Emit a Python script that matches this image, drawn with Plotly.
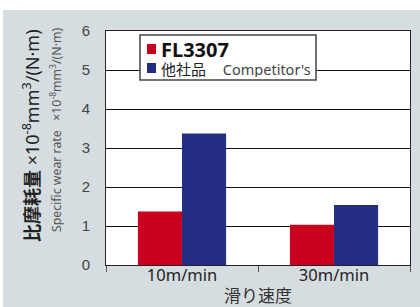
import plotly.graph_objects as go

categories = ["10m/min", "30m/min"]
series_names = ["FL3307", "他社品"]
series_sub = ["", "Competitor's"]
fl3307 = [1.37, 1.03]
competitor = [3.37, 1.54]
y_ticks = [0, 1, 2, 3, 4, 5, 6]
colors = ["#c8001e", "#232d82"]

W, H = 420, 307
L, R, T, B = 106, 10, 31, 42
PW, PH = W - L - R, H - T - B

def px(x):
    return (x - L) / PW

def py(y):
    return (H - B - y) / PH

fig = go.Figure()
for name, vals, c in zip(series_names, [fl3307, competitor], colors):
    fig.add_trace(go.Bar(x=categories, y=vals, name=name, marker=dict(color=c, line=dict(width=0)),
                         showlegend=False))

JP = "Noto Sans CJK JP"
LAT = "Noto Sans"

fig.update_layout(
    width=W, height=H,
    margin=dict(l=L, r=R, t=T, b=B, pad=0),
    paper_bgcolor="#d6dde0",
    plot_bgcolor="#ffffff",
    barmode="group", bargap=0.42, bargroupgap=0,
    xaxis=dict(
        showline=True, linecolor="#222", linewidth=1, mirror=True,
        ticks="outside", ticklen=6, tickcolor="#555", tickson="boundaries",
        tickfont=dict(family=LAT, size=16.5, color="#222"),
        ticklabelstandoff=-5,
        showgrid=False,
    ),
    yaxis=dict(
        range=[0, 6], tickvals=y_ticks, ticktext=[str(v) for v in y_ticks],
        showline=True, linecolor="#222", linewidth=1, mirror=True,
        showgrid=True, gridcolor="#111", gridwidth=1,
        ticks="", ticklabelstandoff=12,
        tickfont=dict(family="Liberation Sans Narrow, Arial Narrow, sans-serif", size=15, color="#444"),
        zeroline=False,
    ),
    font=dict(family=JP),
)

# white strips outside the grey panel
fig.add_shape(type="rect", xref="paper", yref="paper", x0=px(-5), x1=px(W + 5), y0=py(10), y1=py(-5),
              fillcolor="#ffffff", line=dict(width=0), layer="above")
fig.add_shape(type="rect", xref="paper", yref="paper", x0=px(-5), x1=px(3), y0=py(H + 5), y1=py(-5),
              fillcolor="#ffffff", line=dict(width=0), layer="above")

# y-axis titles
fig.add_annotation(xref="paper", yref="paper", x=px(31), y=py(136), showarrow=False, textangle=-90,
                   text="<b>比摩耗量</b> ×10<sup>-8</sup>mm<sup>3</sup>/(N·m)",
                   font=dict(family=LAT + ", " + JP, size=18, color="#222"),
                   xanchor="center", yanchor="middle")
fig.add_annotation(xref="paper", yref="paper", x=px(56), y=py(130), showarrow=False, textangle=-90,
                   text="Specific wear rate&nbsp;&nbsp;&nbsp;×10<sup>-8</sup>mm<sup>3</sup>/(N·m)",
                   font=dict(family=LAT + ", " + JP, size=12.3, color="#555"),
                   xanchor="center", yanchor="middle")
# x-axis title
fig.add_annotation(xref="paper", yref="paper", x=px(258), y=py(294), showarrow=False,
                   text="滑り速度", font=dict(family=JP, size=17, color="#333"),
                   xanchor="center", yanchor="middle")

# legend box
fig.add_shape(type="rect", xref="paper", yref="paper", x0=px(140), x1=px(316), y0=py(80), y1=py(35),
              fillcolor="#ffffff", line=dict(color="#444", width=1.5), layer="above")
rows = [49, 68]
for i, (name, sub, c) in enumerate(zip(series_names, series_sub, colors)):
    yc = rows[i]
    fig.add_shape(type="rect", xref="paper", yref="paper", x0=px(147), x1=px(156), y0=py(yc + 5), y1=py(yc - 5),
                  fillcolor=c, line=dict(width=0), layer="above")
    if i == 0:
        txt = "<b>%s</b>" % name
        f = dict(family="Noto Sans, " + JP, size=20, color="#111")
    else:
        txt = "%s&nbsp;&nbsp;&nbsp;&nbsp;&nbsp;<span style='font-size:14.5px;color:#444;font-family:Noto Sans'>%s</span>" % (name, sub)
        f = dict(family=JP, size=15, color="#222")
    fig.add_annotation(xref="paper", yref="paper", x=px(160), y=py(yc), showarrow=False, text=txt,
                       font=f, xanchor="left", yanchor="middle", height=18, borderpad=0)

fig.write_html("out.html", config={"displayModeBar": False},
               post_script="document.body.style.margin='0';document.body.style.overflow='hidden';")
